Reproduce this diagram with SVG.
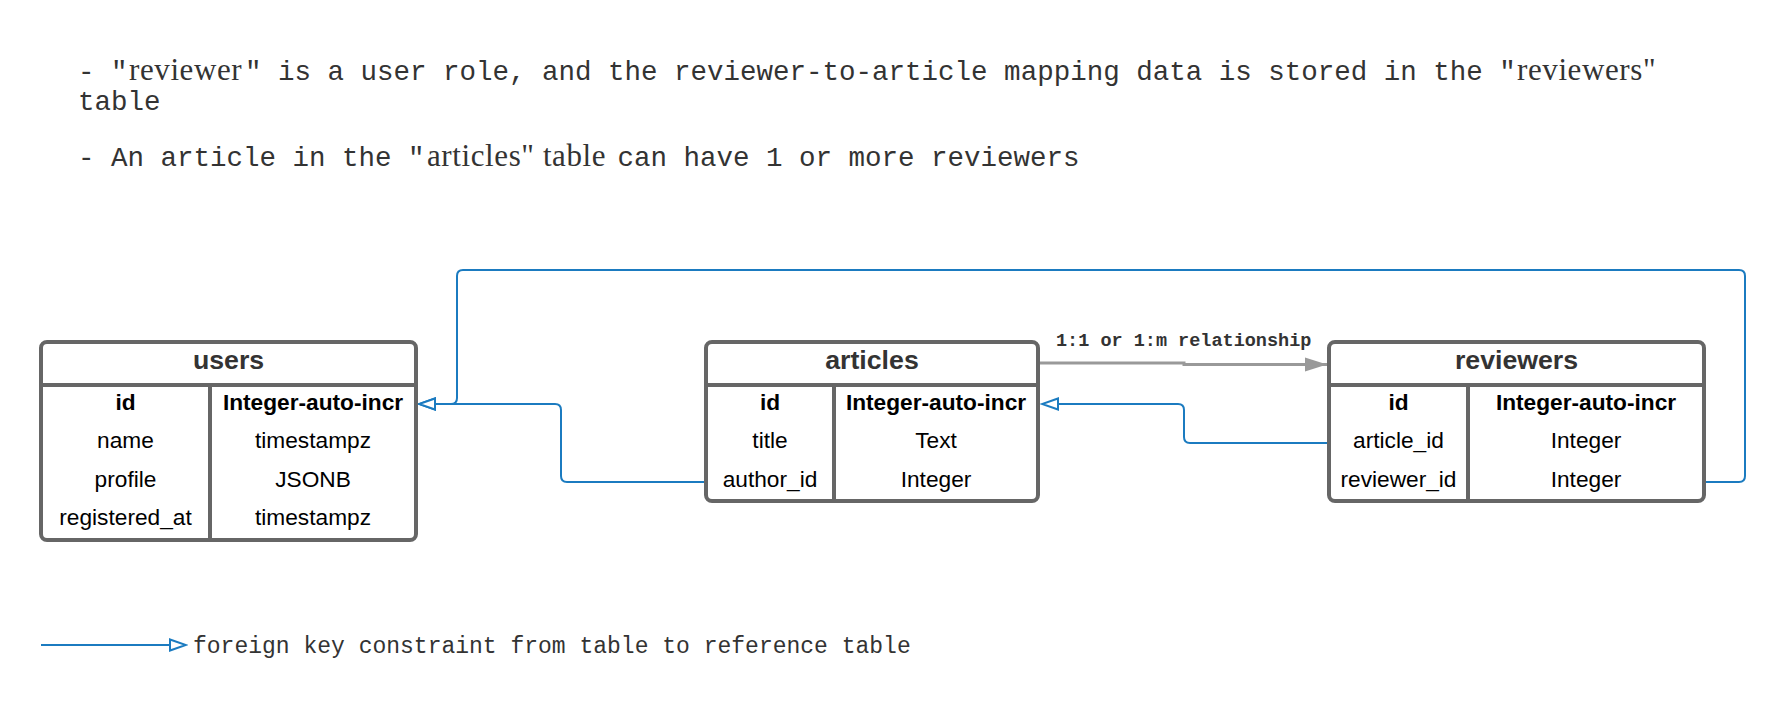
<svg xmlns="http://www.w3.org/2000/svg" width="1789" height="720" viewBox="0 0 1789 720">
<style>
.mono{font-family:"Liberation Mono","DejaVu Sans Mono",monospace;fill:#333}
.serif{font-family:"Liberation Serif","DejaVu Serif",serif;font-size:31px;letter-spacing:0.6px;fill:#333}
.box{fill:#fff;stroke:#666;stroke-width:4}
.ln{stroke:#666;stroke-width:4;fill:none}
.hd{font-family:"Liberation Sans",Arial,sans-serif;font-weight:bold;font-size:26.7px;fill:#333;text-anchor:middle}
.cell{font-family:"Liberation Sans",Arial,sans-serif;font-size:22.7px;fill:#000;text-anchor:middle}
.b{font-weight:bold}
.fk{fill:none;stroke:#1b7bc0;stroke-width:2}
.rel{fill:none;stroke:#999;stroke-width:3}
</style>
<defs>
<marker id="hollow" markerUnits="userSpaceOnUse" markerWidth="20" markerHeight="16" viewBox="0 0 20 16" refX="18" refY="8" orient="auto">
<path d="M2,2.5 L18,8 L2,13.5 Z" fill="#fff" stroke="#1b7bc0" stroke-width="2"/>
</marker>
<marker id="filled" markerUnits="userSpaceOnUse" markerWidth="22" markerHeight="16" viewBox="0 0 22 16" refX="22" refY="8" orient="auto">
<path d="M0,1 L22,8 L0,15 Z" fill="#999"/>
</marker>
</defs>

<g id="notes">
<text class="mono" font-size="27.5" y="80"><tspan x="78">- "</tspan><tspan class="serif" x="129">reviewer</tspan><tspan x="245">" is a user role, and the reviewer-to-article mapping data is stored in the "</tspan><tspan class="serif" x="1517">reviewers"</tspan></text>
<text class="mono" font-size="27.5" x="78" y="110">table</text>
<text class="mono" font-size="27.5" y="166"><tspan x="78">- An article in the "</tspan><tspan class="serif" x="427">articles" table</tspan><tspan x="601"> can have 1 or more reviewers</tspan></text>
</g>

<g id="connectors">
<path class="fk" d="M706,482 H567 Q561,482 561,476 V410 Q561,404 555,404 H419" marker-end="url(#hollow)"/>
<path class="fk" d="M1704,482 H1739 Q1745,482 1745,476 V276 Q1745,270 1739,270 H463 Q457,270 457,276 V398 Q457,404 451,404 H419" marker-end="url(#hollow)"/>
<path class="fk" d="M1329,443 H1190 Q1184,443 1184,437 V410 Q1184,404 1178,404 H1042" marker-end="url(#hollow)"/>
<path class="rel" d="M1038,363 H1184 V364.5 H1327" marker-end="url(#filled)"/>
<text class="mono" font-size="18.5" font-weight="bold" x="1056" y="346">1:1 or 1:m relationship</text>
</g>

<g id="users">
<rect class="box" x="41" y="342" width="375" height="198" rx="6"/>
<path class="ln" d="M41,385 H416 M210,385 V540"/>
<text class="hd" x="228.5" y="369">users</text>
<text class="cell b" x="125.5" y="410">id</text>
<text class="cell b" x="313" y="410">Integer-auto-incr</text>
<text class="cell" x="125.5" y="448">name</text>
<text class="cell" x="313" y="448">timestampz</text>
<text class="cell" x="125.5" y="487">profile</text>
<text class="cell" x="313" y="487">JSONB</text>
<text class="cell" x="125.5" y="525">registered_at</text>
<text class="cell" x="313" y="525">timestampz</text>
</g>

<g id="articles">
<rect class="box" x="706" y="342" width="332" height="159" rx="6"/>
<path class="ln" d="M706,385 H1038 M834,385 V501"/>
<text class="hd" x="872" y="369">articles</text>
<text class="cell b" x="770" y="410">id</text>
<text class="cell b" x="936" y="410">Integer-auto-incr</text>
<text class="cell" x="770" y="448">title</text>
<text class="cell" x="936" y="448">Text</text>
<text class="cell" x="770" y="487">author_id</text>
<text class="cell" x="936" y="487">Integer</text>
</g>

<g id="reviewers">
<rect class="box" x="1329" y="342" width="375" height="159" rx="6"/>
<path class="ln" d="M1329,385 H1704 M1468,385 V501"/>
<text class="hd" x="1516.5" y="369">reviewers</text>
<text class="cell b" x="1398.5" y="410">id</text>
<text class="cell b" x="1586" y="410">Integer-auto-incr</text>
<text class="cell" x="1398.5" y="448">article_id</text>
<text class="cell" x="1586" y="448">Integer</text>
<text class="cell" x="1398.5" y="487">reviewer_id</text>
<text class="cell" x="1586" y="487">Integer</text>
</g>

<g id="legend">
<path class="fk" d="M41,645 H186" marker-end="url(#hollow)"/>
<text class="mono" font-size="23" x="193" y="653">foreign key constraint from table to reference table</text>
</g>
</svg>
